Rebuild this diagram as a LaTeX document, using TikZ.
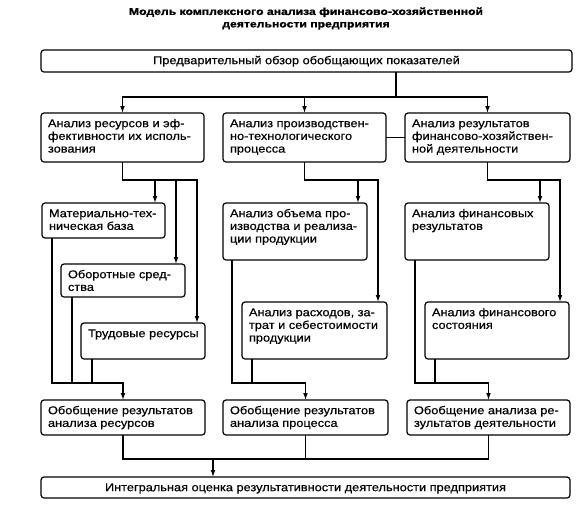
\documentclass[tikz,border=0pt]{standalone}
\usepackage{fontspec}
\setmainfont{Liberation Sans}[FakeStretch=1.13,FakeBold=0.5]
\newfontfamily\titlefont{Liberation Sans}[FakeStretch=1.22,FakeBold=1.2]
\usetikzlibrary{arrows.meta}
\newcommand\bx[6]{\node[bx,anchor=north west] (#1) at (#2,#3) {\parbox[c][#5pt][t]{\dimexpr #4pt-14pt\relax}{\raggedright\hfuzz=50pt\vspace*{5.3pt}\strut #6}};}
\newcommand\cbx[6]{\node[bx,anchor=north west] (#1) at (#2,#3) {\parbox[c][#5pt][t]{\dimexpr #4pt-14pt\relax}{\centering\vspace*{5.3pt}\strut #6}};}
\begin{document}
\begin{tikzpicture}[x=1pt,y=-1pt,
  bx/.style={draw,rounded corners=3pt,line width=1.2pt,inner xsep=7pt,inner ysep=0pt,outer sep=0pt,
    font=\fontsize{11.3}{12.7}\selectfont},
  ln/.style={line width=1.2pt},
  arr/.style={line width=1.2pt,-{Latex[length=7pt,width=4.8pt]}}]
\useasboundingbox (0,0) rectangle (587,504);
\node[align=center,font=\titlefont\bfseries\fontsize{10}{12.5}\selectfont] (title) at (306,18.5)
  {Модель комплексного анализа финансово-хозяйственной\\деятельности предприятия};
\cbx{T}{41}{50}{531}{22}{Предварительный обзор обобщающих показателей}
\bx{A}{41}{113}{163}{49}{\mbox{Анализ ресурсов и эф-}\\\mbox{фективности их исполь-}\\\mbox{зования}}
\bx{B}{223}{113}{163}{49}{\mbox{Анализ производствен-}\\\mbox{но-технологического}\\\mbox{процесса}}
\bx{C}{405}{113}{165}{49}{\mbox{Анализ результатов}\\\mbox{финансово-хозяйствен-}\\\mbox{ной деятельности}}
\bx{mat}{42}{203}{123}{35}{\mbox{Материально-тех-}\\\mbox{ническая база}}
\bx{obor}{61}{264}{124}{33}{\mbox{Оборотные сред-}\\\mbox{ства}}
\bx{trud}{81}{323}{124}{36}{\mbox{Трудовые ресурсы}}
\bx{vol}{223}{203}{144}{57}{\mbox{Анализ объема про-}\\\mbox{изводства и реализа-}\\\mbox{ции продукции}}
\bx{cost}{242}{302}{145}{57}{\mbox{Анализ расходов, за-}\\\mbox{трат и себестоимости}\\\mbox{продукции}}
\bx{fr}{405}{203}{144}{57}{\mbox{Анализ финансовых}\\\mbox{результатов}}
\bx{fs}{425}{302}{144}{57}{\mbox{Анализ финансового}\\\mbox{состояния}}
\bx{G1}{41}{400}{164}{35}{\mbox{Обобщение результатов}\\\mbox{анализа ресурсов}}
\bx{G2}{223}{400}{165}{35}{\mbox{Обобщение результатов}\\\mbox{анализа процесса}}
\bx{G3}{407}{400}{163}{35}{\mbox{Обобщение анализа ре-}\\\mbox{зультатов деятельности}}
\cbx{F}{41}{477}{529}{21}{Интегральная оценка результативности деятельности предприятия}
% top distribution
\coordinate (tj) at (396,97);
\draw[ln] (T.south -| tj) -- (tj);
\draw[arr] (tj) -| (A.north);
\draw[arr] (tj) -| (C.north);
\draw[arr] (tj -| B.north) -- (B.north);
\draw[ln] (B.east) -- (C.west);
% column A
\coordinate (ja) at (197,180);
\coordinate (ja1) at (155,180);
\coordinate (ja2) at (176,180);
\draw[arr] (A.south) |- (ja) -- (ja |- trud.north);
\draw[arr] (ja1) -- (ja1 |- mat.north);
\draw[arr] (ja2) -- (ja2 |- obor.north);
\coordinate (ka) at (52,383);
\coordinate (ka2) at (72,383);
\coordinate (ka3) at (92,383);
\draw[arr] (ka |- mat.south) -- (ka) -| (G1.north);
\draw[ln] (ka2 |- obor.south) -- (ka2);
\draw[ln] (ka3 |- trud.south) -- (ka3);
% column B
\coordinate (jb) at (378,180);
\coordinate (jb1) at (358,180);
\draw[arr] (B.south) |- (jb) -- (jb |- cost.north);
\draw[arr] (jb1) -- (jb1 |- vol.north);
\coordinate (kb) at (232,383);
\coordinate (kb2) at (252,383);
\draw[arr] (kb |- vol.south) -- (kb) -| (G2.north);
\draw[ln] (kb2 |- cost.south) -- (kb2);
% column C
\coordinate (jc) at (560,180);
\coordinate (jc1) at (540,180);
\draw[arr] (C.south) |- (jc) -- (jc |- fs.north);
\draw[arr] (jc1) -- (jc1 |- fr.north);
\coordinate (kc) at (415,383);
\coordinate (kc2) at (435,383);
\draw[arr] (kc |- fr.south) -- (kc) -| (G3.north);
\draw[ln] (kc2 |- fs.south) -- (kc2);
% final
\coordinate (fj) at (213,459);
\draw[ln] (G1.south) |- (G3.south |- fj) -- (G3.south);
\draw[ln] (G2.south) -- (G2.south |- fj);
\draw[arr] (fj) -- (fj |- F.north);
\end{tikzpicture}
\end{document}
